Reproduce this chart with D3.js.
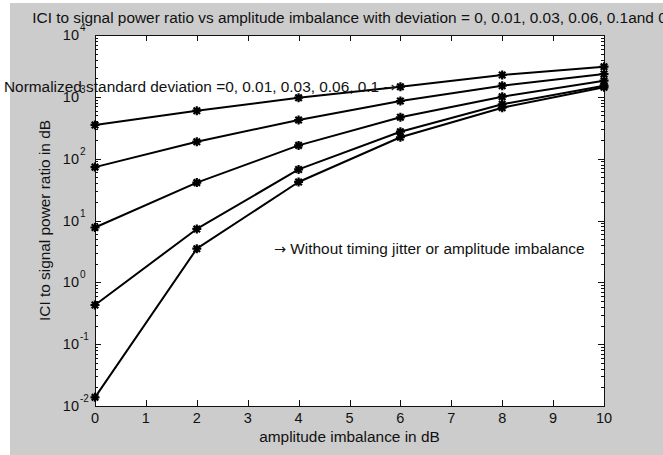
<!DOCTYPE html>
<html>
<head>
<meta charset="utf-8">
<script src="https://cdn.jsdelivr.net/npm/d3@7"></script>
<style>
  html, body { margin: 0; padding: 0; background: #fff; }
  svg { display: block; }
</style>
</head>
<body>
<svg id="chart"></svg>
<script>
// ── Data ─────────────────────────────────────────────
const imbalanceDb = [0, 2, 4, 6, 8, 10];

// ICI / signal power ratio, one row per normalized std deviation
const seriesDev010 = [351, 597, 968, 1459, 2255, 3076];
const seriesDev006 = [73, 188, 422, 857, 1515, 2342];
const seriesDev003 = [7.7, 41, 164, 467, 1005, 1825];
const seriesDev001 = [0.43, 7.3, 67, 273, 758, 1515];
const seriesDev000 = [0.0138, 3.5, 42, 222, 668, 1426];
const allSeries = [seriesDev010, seriesDev006, seriesDev003, seriesDev001, seriesDev000];

const xTicks = [0, 1, 2, 3, 4, 5, 6, 7, 8, 9, 10];
const yDecades = [-2, -1, 0, 1, 2, 3, 4];

const titleText = 'ICI to signal power ratio vs amplitude imbalance with deviation = 0, 0.01, 0.03, 0.06, 0.1and 0';
const xLabelText = 'amplitude imbalance in dB';
const yLabelText = 'ICI to signal power ratio in dB';
const noteDeviation = 'Normalized standard deviation =0, 0.01, 0.03, 0.06, 0.1 ';
const noteNoJitter = ' Without timing jitter or amplitude imbalance';
const ARROW = '\u2192';

// ── Layout ───────────────────────────────────────────
const W = 663, H = 455;
const box = { left: 95, right: 604, top: 35, bottom: 406 };
const FONT = '"Liberation Sans", Arial, sans-serif';
const ARROW_FONT = '"DejaVu Sans", sans-serif';
const INK = '#111';
const FS = 15.4;      // titles / notes
const FS_TICK = 14.5; // tick labels

const svg = d3.select('#chart').attr('width', W).attr('height', H);

svg.append('rect').attr('width', W).attr('height', H).attr('fill', '#fff');
svg.append('rect')
  .attr('x', 10).attr('y', 3)
  .attr('width', W - 10).attr('height', H - 3)
  .attr('fill', '#cccccc');

const xScale = d3.scaleLinear().domain([0, 10]).range([box.left, box.right]);
const yScale = d3.scaleLog().domain([1e-2, 1e4]).range([box.bottom, box.top]);

svg.append('rect')
  .attr('x', box.left).attr('y', box.top)
  .attr('width', box.right - box.left).attr('height', box.bottom - box.top)
  .attr('fill', '#fff');

// ── Ticks (MATLAB style, inward, on all four sides) ──
const ticks = svg.append('g').attr('stroke', INK).attr('stroke-width', 1);

xTicks.forEach(t => {
  const x = Math.round(xScale(t)) + 0.5;
  ticks.append('line').attr('x1', x).attr('x2', x).attr('y1', box.bottom).attr('y2', box.bottom - 6);
  ticks.append('line').attr('x1', x).attr('x2', x).attr('y1', box.top).attr('y2', box.top + 6);
});

const minorVals = [];
yDecades.slice(0, -1).forEach(e => {
  for (let m = 2; m <= 9; m++) minorVals.push(m * Math.pow(10, e));
});

yDecades.forEach(e => {
  const y = Math.round(yScale(Math.pow(10, e))) + 0.5;
  ticks.append('line').attr('x1', box.left).attr('x2', box.left + 6).attr('y1', y).attr('y2', y);
  ticks.append('line').attr('x1', box.right).attr('x2', box.right - 6).attr('y1', y).attr('y2', y);
});
minorVals.forEach(v => {
  const y = Math.round(yScale(v)) + 0.5;
  ticks.append('line').attr('x1', box.left).attr('x2', box.left + 3).attr('y1', y).attr('y2', y);
  ticks.append('line').attr('x1', box.right).attr('x2', box.right - 3).attr('y1', y).attr('y2', y);
});

// frame
svg.append('rect')
  .attr('x', box.left + 0.5).attr('y', box.top + 0.5)
  .attr('width', box.right - box.left).attr('height', box.bottom - box.top)
  .attr('fill', 'none').attr('stroke', INK).attr('stroke-width', 1);

// ── Tick labels ──────────────────────────────────────
const labels = svg.append('g')
  .attr('font-family', FONT).attr('fill', INK);

labels.selectAll('.xtick')
  .data(xTicks)
  .join('text')
    .attr('class', 'xtick')
    .attr('x', d => xScale(d))
    .attr('y', box.bottom + 17)
    .attr('text-anchor', 'middle')
    .attr('font-size', FS_TICK)
    .text(d => d);

const yLab = labels.selectAll('.ytick')
  .data(yDecades)
  .join('g')
    .attr('class', 'ytick')
    .attr('transform', d => `translate(79,${yScale(Math.pow(10, d))})`);

yLab.append('text')
  .attr('x', 0).attr('y', 5)
  .attr('text-anchor', 'end')
  .attr('font-size', FS_TICK)
  .text('10');
yLab.append('text')
  .attr('x', 1).attr('y', -4)
  .attr('font-size', 10)
  .text(d => d);

// ── Series ───────────────────────────────────────────
const line = d3.line()
  .x((d, i) => xScale(imbalanceDb[i]))
  .y(d => yScale(d));

const plot = svg.append('g');

plot.selectAll('.series')
  .data(allSeries)
  .join('path')
    .attr('class', 'series')
    .attr('d', line)
    .attr('fill', 'none')
    .attr('stroke', '#000')
    .attr('stroke-width', 2)
    .attr('stroke-linejoin', 'round');

// asterisk markers
const star = r => {
  const d = r * 0.72;
  return `M${-r},0L${r},0M0,${-r}L0,${r}M${-d},${-d}L${d},${d}M${-d},${d}L${d},${-d}`;
};

allSeries.forEach(vals => {
  plot.selectAll(null)
    .data(vals)
    .join('path')
      .attr('transform', (d, i) => `translate(${xScale(imbalanceDb[i])},${yScale(d)})`)
      .attr('d', star(4.5))
      .attr('fill', 'none')
      .attr('stroke', '#000')
      .attr('stroke-width', 2.2);
});

// ── Titles and notes ─────────────────────────────────
const text = svg.append('g').attr('font-family', FONT).attr('fill', INK).attr('font-size', FS);

text.append('text')
  .attr('x', (box.left + box.right) / 2).attr('y', 23)
  .attr('text-anchor', 'middle')
  .text(titleText);

text.append('text')
  .attr('x', (box.left + box.right) / 2).attr('y', 442)
  .attr('text-anchor', 'middle')
  .text(xLabelText);

text.append('text')
  .attr('transform', `translate(50,${(box.top + box.bottom) / 2}) rotate(-90)`)
  .attr('text-anchor', 'middle')
  .text(yLabelText);

const n1 = text.append('text').attr('x', 4).attr('y', 92);
n1.append('tspan').text(noteDeviation);
n1.append('tspan').attr('font-family', ARROW_FONT).attr('font-size', FS - 1).text(ARROW);

const n2 = text.append('text').attr('x', 274).attr('y', 254);
n2.append('tspan').attr('font-family', ARROW_FONT).attr('font-size', FS - 1).text(ARROW);
n2.append('tspan').text(noteNoJitter);
</script>
</body>
</html>
